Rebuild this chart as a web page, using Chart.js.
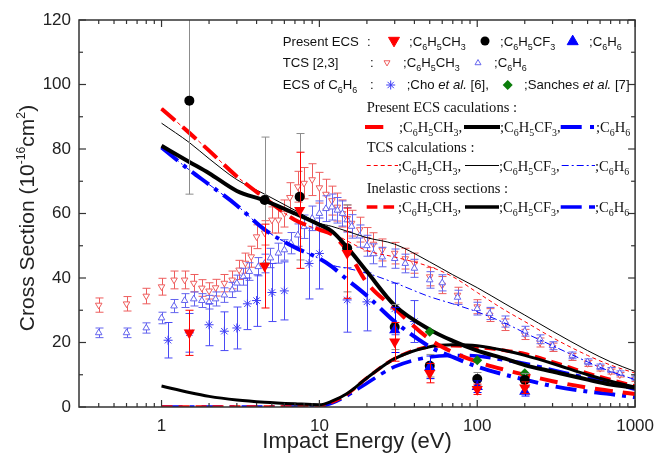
<!DOCTYPE html>
<html><head><meta charset="utf-8">
<script src="https://cdn.jsdelivr.net/npm/chart.js@4.4.0/dist/chart.umd.min.js"></script>
<style>
html,body{margin:0;padding:0;background:#fff;}
#wrap{position:relative;width:663px;height:459px;overflow:hidden;background:#fff;}
#c{position:absolute;left:0;top:0;}
.lg{position:absolute;white-space:nowrap;transform:translateY(-50%);line-height:1;color:#111;}
.sans{font-family:"Liberation Sans",Arial,sans-serif;font-size:13.2px;}
.serif{font-family:"Liberation Serif","Times New Roman",serif;font-size:14.6px;}
.lg sub{font-size:68%;vertical-align:-0.4em;line-height:0;}
svg.sw{position:absolute;left:0;top:0;overflow:visible;}
#ytitle{position:absolute;left:27px;top:218px;transform:translate(-50%,-50%) rotate(-90deg);font-family:"Liberation Sans",Arial,sans-serif;font-size:21px;white-space:nowrap;color:#222;}
#ytitle sup{font-size:58%;vertical-align:0.75em;line-height:0;}
</style></head>
<body><div id="wrap"><canvas id="c" width="663" height="459"></canvas>
<svg class="sw" id="sw" width="663" height="459"></svg>
<div id="legend"></div>
<div id="ytitle">Cross Section (10<sup>-16</sup>cm<sup>2</sup>)</div></div>
<script>
// ---------- tick labels ----------
const xTicks = [1, 10, 100, 1000];
const yTicks = [0, 20, 40, 60, 80, 100, 120];

// ---------- experimental TCS [2,3] ----------
const tcsTolE = [0.4,0.6,0.8,1.0,1.2,1.4,1.6,1.8,2.0,2.2,2.5,2.8,3.1,3.4,3.7,4.0,4.5,5.0,5.5,6.0,6.5,7.3,8.0,9.0,10,11,12,13,14,15,16,18,20,22,25,30,35,40,50,60,75,100,120,150,200,250,300,400,500,600,700,800,1000];
const tcsTolV = [31.6,32,34.4,37.3,39.4,39.4,38.4,36.9,36,37,38.4,39.4,42.5,44.6,46.6,52.8,54,58,58,60,65,68.3,69.4,70.5,68,66,64,62,60,58.5,57,55,52,50.5,48.7,47.7,46,44.6,40.4,37.8,34.7,31.1,28.5,25.5,22.5,20,18.5,15.5,13.5,12,11,10,8.5];
const tcsBenE = [0.4,0.6,0.8,1.0,1.2,1.4,1.6,1.8,2.0,2.2,2.5,2.8,3.0,3.3,3.6,4.1,4.5,4.9,5.5,6.0,6.6,7.3,8.0,9.0,10,11,12,13,14,15,16,18,20,22,25,30,35,40,50,60,75,100,120,150,200,250,300,400,500,600,700,800,1000];
const tcsBenV = [23,23,24.5,27.6,31.3,33,33.5,33,32.5,33.5,34.7,36.3,38.4,40.4,42,43.5,44.5,46.2,47.7,48.7,50.8,53.3,55.9,58.5,60,61.5,62,61,60,58,56,53,50,47.5,46.5,46,44.5,43,39.4,38.5,34,30.5,29,26.5,23.5,21,19,16,14,12.5,11.5,10.5,9];

// ---------- ECS of C6H6: Cho et al. [6], Sanches et al. [7] ----------
const choE = [1.1,1.5,2,2.5,3,3.5,4,5,6,8.6,10,15,20,30,40];
const choV = [20.7,23,25.5,23.5,24.5,32,33,35.5,36,44.5,47.6,33.2,32.6,30.4,26.5];
const choErr = [5.5,6,6.5,6,6.5,8,8,9,9,11,11,10,9,8,6.5];
const sanE = [50,100,200];
const sanV = [23.3,14.5,10.5];

// ---------- present ECS (measured) ----------
const ecsTolE = [1.5,4.5,7.5,15,30,50,100,200];
const ecsTolV = [23,43.7,61,47.7,20.2,10.5,5.5,6];
const ecsTolErr = [7,13,18,14,6,3,1.6,1.8];
const ecsCf3E = [1.5,4.5,7.5,15,30,50,100,200];
const ecsCf3V = [95,64.2,65.2,49.2,24.8,12.8,8.7,8.4];
const ecsCf3Err = [29,19.5,19.6,13.5,7,3.5,2,2];
const ecsBenE = [30,50,100,200];
const ecsBenV = [23.9,12.3,6.3,4.8];
const ecsBenErr = [7,3.5,1.8,1.4];

// ---------- calculations ----------
const calcE      = [1,1.5,2,3,4.5,7,10,12,15,20,30,50,70,100,150,200,300,500,700,1000];
const ecsCalcTol = [92.5,85,79.5,71.5,64.8,58,55,53.5,48.5,38.5,30.5,21,17,14,11.5,10,8,6,5,4];
const ecsCalcCf3 = [81,76,72.5,67,64,60,56.5,54.5,49.5,42,31.5,24,20.5,17.5,15,13,11,8.5,7,6];
const ecsCalcBen = [80.5,73.5,69,62.5,55,49.5,46,43.5,39.5,34.5,26.5,18.7,15.5,12.5,10,8.5,6.5,4.8,4,3];
const tcsCalcTol = [92.5,85,79.5,71.5,64.8,58,55,54,51.5,48.5,46.5,43.5,40.4,35.5,30,26.5,21.5,16,13,10.5];
const tcsCalcCf3 = [88,82,77,70.5,66,61,57,56,54.5,52.5,50.5,45,41,37,32,28.5,23.5,17.5,14,11];
const tcsCalcBen = [80.5,73.5,69,62.5,55,49.5,46,44,43,41.5,38.5,34.2,32,29.5,26,23,19,14,11,8.5];
const inelTol    = [0,0,0,0,0,0,0.3,1.5,4,9,15,18.7,19,18.5,17.5,16.5,14,10.5,8.5,6.5];
const inelCf3    = [6.5,4.5,3.3,2.2,1.5,1.0,0.7,1.8,4.2,9,15,18.7,19.3,19,17.5,16,13.5,10,8,6.2];
const inelBen    = [0,0,0,0,0,0,0.2,1.2,3.5,7.4,12.5,15.5,16,15.8,14.5,13.5,11.5,9,7.5,5.5];

const pts = (E, V) => E.map((e, i) => ({x: e, y: V[i]}));
const RED = '#ff0000', BLUE = '#0000ff', LRED = '#ee5d5d', LBLUE = '#6464ee';

const curve = (E, V, color, width, dash, order) => ({
  data: pts(E, V), showLine: true, pointRadius: 0, borderColor: color, backgroundColor: color,
  borderWidth: width, borderDash: dash, borderCapStyle: 'butt', cubicInterpolationMode: 'monotone', order
});

const datasets = [
  {data: pts(ecsCf3E, ecsCf3V), err: ecsCf3Err, errColor: '#8c8c8c', cap: 8, pointStyle: 'circle', pointRadius: 5, backgroundColor: '#000', borderColor: '#000', borderWidth: 0, order: 3},
  {data: pts(ecsBenE, ecsBenV), err: ecsBenErr, errColor: BLUE, cap: 8, pointStyle: 'triangle', pointRadius: 6.5, backgroundColor: BLUE, borderColor: BLUE, borderWidth: 0, order: 2},
  {data: pts(ecsTolE, ecsTolV), err: ecsTolErr, errColor: RED, cap: 8, pointStyle: 'triangle', pointRotation: 180, pointRadius: 6.5, backgroundColor: RED, borderColor: RED, borderWidth: 0, order: 1},
  {data: pts(sanE, sanV), pointStyle: 'rectRot', pointRadius: 5, backgroundColor: '#0b7d0b', borderColor: '#0b7d0b', borderWidth: 0, order: 4},
  curve(calcE, ecsCalcTol, RED, 4, [18, 10], 6),
  curve(calcE, ecsCalcCf3, '#000', 4, [], 5),
  curve(calcE, ecsCalcBen, BLUE, 4, [21, 7, 4, 7], 7),
  curve(calcE, tcsCalcTol, RED, 1, [4, 3], 9),
  curve(calcE, tcsCalcCf3, '#000', 1, [], 8),
  curve(calcE, tcsCalcBen, BLUE, 1, [7, 3, 2, 3], 10),
  curve(calcE, inelTol, RED, 3.5, [11, 6], 12),
  curve(calcE, inelCf3, '#000', 3, [], 11),
  curve(calcE, inelBen, BLUE, 3.5, [21, 7, 5, 7], 13),
  {data: pts(choE, choV), err: choErr, errColor: '#4a4af5', cap: 8, pointStyle: 'star', pointRadius: 4.5, borderColor: '#3c3cf5', backgroundColor: '#3c3cf5', borderWidth: 1, order: 14},
  {data: pts(tcsBenE, tcsBenV), errRel: 0.065, errColor: LBLUE, cap: 8, pointStyle: 'triangle', pointRadius: 3.8, backgroundColor: '#fff', borderColor: LBLUE, borderWidth: 1, order: 15},
  {data: pts(tcsTolE, tcsTolV), errRel: 0.07, errColor: LRED, cap: 8, pointStyle: 'triangle', pointRotation: 180, pointRadius: 3.8, backgroundColor: '#fff', borderColor: LRED, borderWidth: 1, order: 16}
];

const errorBars = {
  id: 'errorBars',
  beforeDatasetDraw(chart, args) {
    const ds = chart.data.datasets[args.index];
    if (!ds.err && !ds.errRel) return;
    const {ctx, chartArea: a, scales: {x, y}} = chart;
    ctx.save();
    ctx.beginPath(); ctx.rect(a.left, a.top, a.right - a.left, a.bottom - a.top); ctx.clip();
    ctx.strokeStyle = ds.errColor; ctx.lineWidth = 1;
    ds.data.forEach((p, i) => {
      const e = ds.err ? ds.err[i] : p.y * ds.errRel;
      const px = Math.round(x.getPixelForValue(p.x)) + 0.5;
      const y1 = y.getPixelForValue(p.y + e), y2 = y.getPixelForValue(p.y - e);
      const h = ds.cap / 2;
      ctx.beginPath();
      ctx.moveTo(px, y1); ctx.lineTo(px, y2);
      ctx.moveTo(px - h, y1); ctx.lineTo(px + h, y1);
      ctx.moveTo(px - h, y2); ctx.lineTo(px + h, y2);
      ctx.stroke();
    });
    ctx.restore();
  }
};

const frame = {
  id: 'frame',
  afterDraw(chart) {
    const {ctx, chartArea: a, scales: {x, y}} = chart;
    ctx.save();
    ctx.strokeStyle = '#333';
    ctx.lineWidth = 1.5;
    ctx.strokeRect(a.left, a.top, a.right - a.left, a.bottom - a.top);
    ctx.lineWidth = 1.2;
    const seg = (x1, y1, x2, y2) => { ctx.beginPath(); ctx.moveTo(x1, y1); ctx.lineTo(x2, y2); ctx.stroke(); };
    const xMinor = [];
    [0.1, 1, 10, 100].forEach(d => { for (let m = 2; m <= 9; m++) { const v = m * d; if (v - x.min > 1e-6 && v < x.max) xMinor.push(v); } });
    xTicks.forEach(v => { const p = x.getPixelForValue(v); seg(p, a.bottom, p, a.bottom - 7); seg(p, a.top, p, a.top + 7); });
    xMinor.forEach(v => { const p = x.getPixelForValue(v); seg(p, a.bottom, p, a.bottom - 4); seg(p, a.top, p, a.top + 4); });
    yTicks.forEach(v => { const p = y.getPixelForValue(v); seg(a.left, p, a.left + 7, p); seg(a.right, p, a.right - 7, p); });
    yTicks.slice(0, -1).forEach(v => { const p = y.getPixelForValue(v + 10); seg(a.left, p, a.left + 4, p); seg(a.right, p, a.right - 4, p); });
    ctx.restore();
  }
};

const FONT = '"Liberation Sans", Arial, sans-serif';
new Chart(document.getElementById('c'), {
  type: 'scatter',
  data: {datasets},
  plugins: [errorBars, frame],
  options: {
    responsive: false, animation: false, events: [],
    layout: {padding: {top: 20, right: 22, left: 0, bottom: 0}},
    plugins: {legend: {display: false}, tooltip: {enabled: false}},
    scales: {
      x: {
        type: 'logarithmic', min: 0.3, max: 1000,
        grid: {display: false, drawTicks: false}, border: {display: false},
        afterBuildTicks: s => { s.ticks = xTicks.map(v => ({value: v})); },
        ticks: {color: '#222', font: {family: FONT, size: 17}, padding: 9, maxRotation: 0, autoSkip: false, callback: v => String(v)},
        title: {display: true, text: 'Impact Energy (eV)', color: '#222', font: {family: FONT, size: 22}, padding: {top: 0, bottom: 4}},
        afterFit: s => { s.height = 52; }
      },
      y: {
        min: 0, max: 120,
        grid: {display: false, drawTicks: false}, border: {display: false},
        afterBuildTicks: s => { s.ticks = yTicks.map(v => ({value: v})); },
        ticks: {color: '#222', font: {family: FONT, size: 17}, padding: 8, callback: v => String(v)},
        afterFit: s => { s.width = 79; }
      }
    }
  }
});

// ---------- legend (HTML text + SVG swatches) ----------
const tol = ';C<sub>6</sub>H<sub>5</sub>CH<sub>3</sub>';
const cf3 = ';C<sub>6</sub>H<sub>5</sub>CF<sub>3</sub>';
const ben = ';C<sub>6</sub>H<sub>6</sub>';
const legendText = [
  ['sans', 282.7, 41.5, 'Present ECS'], ['sans', 367, 41.5, ':'], ['sans', 409, 41.5, tol], ['sans', 500, 41.5, cf3], ['sans', 589, 41.5, ben],
  ['sans', 282.7, 63, 'TCS [2,3]'], ['sans', 370, 63, ':'], ['sans', 403, 63, tol], ['sans', 494, 63, ben],
  ['sans', 282.7, 85, 'ECS of C<sub>6</sub>H<sub>6</sub>'], ['sans', 370, 85, ':'], ['sans', 406.7, 85, ';Cho <i>et al.</i> [6],'], ['sans', 524, 85, ';Sanches <i>et al.</i> [7]'],
  ['serif', 366.7, 107, 'Present ECS caculations :'],
  ['serif', 399, 127, tol + ','], ['serif', 500, 127, cf3 + ','], ['serif', 596, 127, ben],
  ['serif', 366.7, 147, 'TCS calculations :'],
  ['serif', 398, 166, tol + ','], ['serif', 499, 166, cf3 + ','], ['serif', 595, 166, ben],
  ['serif', 366.7, 188, 'Inelastic cross sections :'],
  ['serif', 398, 207, tol + ','], ['serif', 499, 207, cf3 + ','], ['serif', 595, 207, ben]
];
document.getElementById('legend').innerHTML = legendText.map(([c, x, y, h]) =>
  `<span class="lg ${c}" style="left:${x}px;top:${y}px">${h}</span>`).join('');

const tri = (cx, cy, w, down, fill, stroke) => {
  const h = w * 0.866, t = down ? cy - h / 3 : cy + h / 3, apex = down ? cy + 2 * h / 3 : cy - 2 * h / 3;
  return `<polygon points="${cx - w / 2},${t} ${cx + w / 2},${t} ${cx},${apex}" fill="${fill}" stroke="${stroke}" stroke-width="1"/>`;
};
const ln = (x1, x2, yy, color, w, dash) => `<line x1="${x1}" y1="${yy}" x2="${x2}" y2="${yy}" stroke="${color}" stroke-width="${w}" stroke-dasharray="${dash}"/>`;
const star = (cx, cy, r, c) => [0, 45, 90, 135].map(a => { const dx = r * Math.cos(a * Math.PI / 180), dy = r * Math.sin(a * Math.PI / 180); return `<line x1="${cx - dx}" y1="${cy - dy}" x2="${cx + dx}" y2="${cy + dy}" stroke="${c}" stroke-width="1"/>`; }).join('');
document.getElementById('sw').innerHTML = [
  tri(394, 40.5, 11, true, RED, RED), `<circle cx="485" cy="41" r="4.5" fill="#000"/>`, tri(572.7, 41.5, 11, false, BLUE, BLUE),
  tri(387, 62.5, 6, true, '#fff', LRED), tri(478, 63, 6, false, '#fff', LBLUE),
  star(390.7, 85, 4.5, '#3c3cf5'), `<polygon points="507.7,80 512.7,85 507.7,90 502.7,85" fill="#0b7d0b"/>`,
  ln(365, 383.3, 127, RED, 4, ''), ln(464, 500, 127, '#000', 4, ''), ln(560.7, 594.5, 127, BLUE, 4, '21 8.3 4 10'),
  ln(366.7, 398, 165.5, RED, 1, '4 3'), ln(465, 499, 165.5, '#000', 1, ''), ln(561.7, 595, 165.5, BLUE, 1, '7 3 2 3'),
  ln(366.7, 395, 207, RED, 3.5, '10.7 6'), ln(465, 499, 207, '#000', 3.5, ''), ln(560.7, 595, 207, BLUE, 3.5, '21 7.3 6 10')
].join('');
</script></body></html>
